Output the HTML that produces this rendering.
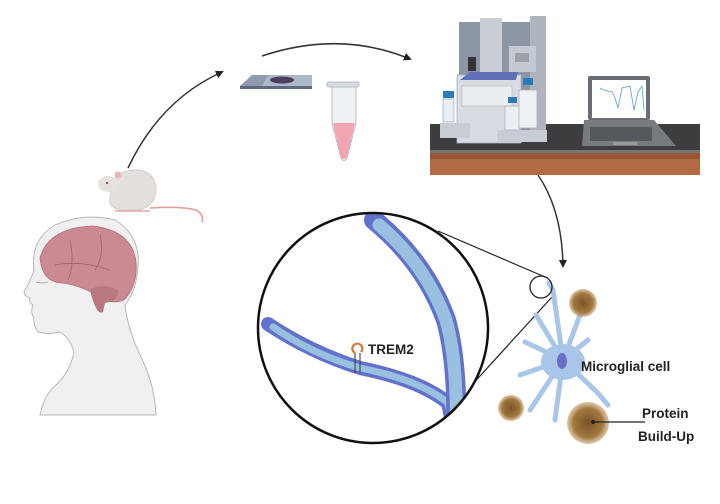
<!DOCTYPE html>
<html><head><meta charset="utf-8"><style>
html,body{margin:0;padding:0;background:#fff;}
svg{display:block;font-family:"Liberation Sans",sans-serif;}
</style></head><body>
<svg width="720" height="504" viewBox="0 0 720 504" xmlns="http://www.w3.org/2000/svg">
<defs>
<marker id="ah" markerWidth="8" markerHeight="8" refX="6" refY="4" orient="auto" markerUnits="userSpaceOnUse"><path d="M0,0 L8,4 L0,8 Z" fill="#222"/></marker>
<radialGradient id="prot"><stop offset="0" stop-color="#7a5525"/><stop offset="0.7" stop-color="#a07840"/><stop offset="1" stop-color="#c8a070" stop-opacity="0.6"/></radialGradient>
<clipPath id="cc"><circle cx="373" cy="328" r="114"/></clipPath>
</defs>
<!-- arrows -->
<path d="M128,168 Q160,100 222,72" fill="none" stroke="#333" stroke-width="1.5" marker-end="url(#ah)"/>
<path d="M262,56 Q340,30 410,59" fill="none" stroke="#333" stroke-width="1.6" marker-end="url(#ah)"/>
<path d="M538,175 Q562,210 563,266" fill="none" stroke="#333" stroke-width="1.5" marker-end="url(#ah)"/>

<!-- slide -->
<polygon points="240,86 252,75 312,75 312,86" fill="#8f9ab0"/>
<polygon points="262,86 268,75 312,75 312,86" fill="#aeb8cc"/>
<rect x="240" y="86" width="72" height="3" fill="#5f6a80"/>
<ellipse cx="282" cy="80" rx="12" ry="3.5" fill="#4c4060"/>
<!-- tube -->
<rect x="327" y="82" width="32" height="5" rx="2" fill="#d8dde2" stroke="#aab" stroke-width="0.8"/>
<path d="M332,87 L356,87 L356,123 L347,158 Q344,163 341,158 L332,123 Z" fill="#eef1f4" stroke="#b8bec6" stroke-width="1"/>
<path d="M333,123 L355,123 L347,157 Q344,161 341,157 Z" fill="#f2a5b0"/>

<!-- bench -->
<rect x="430" y="124" width="270" height="28" fill="#3d3d3f"/>
<rect x="430" y="150" width="270" height="3" fill="#777"/>
<rect x="430" y="153" width="270" height="22" fill="#b26a42"/>
<rect x="430" y="153" width="270" height="6" fill="#9a5535"/>
<!-- machine -->
<rect x="459" y="22" width="82" height="110" fill="#8d96a4"/>
<rect x="480" y="18" width="22" height="100" fill="#c9ced6"/>
<rect x="530" y="16" width="16" height="125" fill="#aeb5bf"/>
<rect x="509" y="46" width="27" height="26" fill="#c5cad1"/>
<rect x="515" y="53" width="14" height="9" fill="#9aa1ab"/>
<rect x="468" y="57" width="8" height="14" fill="#333"/>
<rect x="457" y="75" width="64" height="68" fill="#d8dce2" stroke="#aab0ba" stroke-width="0.8"/>
<polygon points="460,80 470,72 518,72 516,80" fill="#6070b8"/>
<rect x="462" y="86" width="50" height="20" fill="#eaedf0" stroke="#aab" stroke-width="0.5"/>
<rect x="440" y="123" width="30" height="15" fill="#c8cdd4"/>
<rect x="497" y="130" width="50" height="12" fill="#c8cdd4"/>
<path d="M443,122 L443,99 L454,99 L454,122 Z" fill="#e8eef2" stroke="#aab" stroke-width="0.7"/>
<rect x="443" y="91" width="11" height="7" fill="#2c7ab8"/>
<path d="M505,130 L505,106 L520,106 L520,130 Z" fill="#e8eef2" stroke="#aab" stroke-width="0.7"/>
<rect x="508" y="97" width="9" height="6" fill="#2c7ab8"/>
<path d="M519,128 L519,90 L537,90 L537,128 Z" fill="#edf1f4" stroke="#aab" stroke-width="0.7"/>
<rect x="523" y="78" width="10" height="7" fill="#2c7ab8"/>
<!-- laptop -->
<rect x="588" y="76" width="62" height="44" rx="2" fill="#6a6e74"/>
<rect x="592" y="80" width="54" height="38" fill="#fff"/>
<path d="M600,88 L604,90 L612,92 L615,98 L618,108 L622,88 L630,86 L634,110 L638,92 L642,86 L644,110" fill="none" stroke="#5b9bd5" stroke-width="0.8"/>
<path d="M584,120 L654,120 L676,146 L582,146 Z" fill="#777b80"/>
<rect x="590" y="127" width="62" height="14" fill="#55595e"/>
<rect x="613" y="142" width="24" height="3" fill="#999"/>

<!-- mouse -->
<path d="M112,184 Q114,172 132,170 Q152,168 156,186 Q157,205 140,210 L120,210 Q108,207 110,198 Z" fill="#e3dfdc" stroke="#cfcac6" stroke-width="0.8"/>
<ellipse cx="108" cy="184" rx="10" ry="8" fill="#e6e2df"/>
<circle cx="118" cy="175" r="3.5" fill="#e9b9b9"/>
<circle cx="107" cy="183" r="1" fill="#c00"/>
<path d="M150,208 Q180,206 196,210 Q204,214 202,222" fill="none" stroke="#e0a0a0" stroke-width="1.6"/>
<path d="M115,211 L150,211" stroke="#e0a8a8" stroke-width="1.5"/>

<!-- head -->
<path d="M40,415 Q44,395 56,385 Q70,372 74,352 Q70,338 60,332 Q48,335 38,332 Q33,325 34,318 Q30,312 33,305 Q28,302 30,298 Q24,296 24,292 Q30,282 34,270 Q30,240 55,225 Q85,212 115,220 Q140,235 138,265 Q137,290 125,305 Q128,330 140,355 Q155,385 156,415 Z" fill="#f0f0f0" stroke="#b8b8b8" stroke-width="1"/>
<path d="M40,258 Q48,228 92,226 Q132,230 136,262 Q138,285 124,300 Q110,305 98,296 Q80,285 62,283 Q42,282 40,258 Z" fill="#c98a92" stroke="#b5707a" stroke-width="0.8"/>
<path d="M90,290 Q102,282 118,290 Q120,300 105,303 L103,312 Q100,314 97,310 Q92,300 90,290 Z" fill="#b87880"/>
<path d="M70,240 Q75,265 68,280 M100,235 Q105,255 95,270 M55,265 Q80,260 110,270" fill="none" stroke="#a5606a" stroke-width="0.8"/>
<path d="M36,282 Q42,284 48,282" fill="none" stroke="#999" stroke-width="0.8"/>

<!-- zoom lines -->
<line x1="438" y1="231" x2="545" y2="277" stroke="#222" stroke-width="1.2"/>
<line x1="470" y1="387" x2="552" y2="297" stroke="#222" stroke-width="1.2"/>
<!-- microglia -->
<g stroke="#a9c6e8" stroke-width="5" stroke-linecap="round" fill="none">
<path d="M563,360 L553,290 L549,283"/>
<path d="M563,360 L580,315 L592,300"/>
<path d="M563,360 L525,342"/>
<path d="M563,360 L536,315"/>
<path d="M563,360 L540,395 L530,410"/>
<path d="M563,360 L555,420"/>
<path d="M563,360 L597,392 L608,405"/>
<path d="M563,360 L588,340"/>
<path d="M563,360 L520,375"/>
</g>
<ellipse cx="563" cy="362" rx="22" ry="18" fill="#a9c6e8"/>
<ellipse cx="562" cy="361" rx="5" ry="8" fill="#6a6ec8"/>
<circle cx="541" cy="287" r="11" fill="none" stroke="#222" stroke-width="1.3"/>
<circle cx="583" cy="303" r="14" fill="url(#prot)"/>
<circle cx="511" cy="408" r="13" fill="url(#prot)"/>
<circle cx="588" cy="423" r="21" fill="url(#prot)"/>
<circle cx="593" cy="422" r="2" fill="#222"/>
<line x1="593" y1="422" x2="645" y2="422" stroke="#222" stroke-width="1.2"/>
<text x="581" y="371" font-size="13.5" font-weight="bold" fill="#222">Microglial cell</text>
<text x="642" y="418" font-size="13.5" font-weight="bold" fill="#222">Protein</text>
<text x="638" y="441" font-size="13.5" font-weight="bold" fill="#222">Build-Up</text>

<!-- magnified circle -->
<circle cx="373" cy="328" r="115" fill="#fff"/>
<g clip-path="url(#cc)" fill="none" stroke-linecap="round" stroke-linejoin="round">
<path d="M268,324 Q310,352 360,368 Q420,380 448,403 L460,460" stroke="#6272cc" stroke-width="14"/>
<path d="M273,327 Q312,354 360,368 Q420,380 448,403 L460,460" stroke="#9ac0e0" stroke-width="7"/>
<path d="M374,220 Q425,262 446,320 Q460,370 455,460" stroke="#6272cc" stroke-width="20"/>
<path d="M379,225 Q425,264 446,320 Q460,370 455,460" stroke="#9ac0e0" stroke-width="13"/>
</g>
<circle cx="373" cy="328" r="115" fill="none" stroke="#111" stroke-width="2.5"/>
<line x1="355" y1="353" x2="355" y2="373" stroke="#333" stroke-width="1"/>
<line x1="360" y1="353" x2="360" y2="373" stroke="#333" stroke-width="1"/>
<path d="M355,353 A5,5 0 1,1 361,352" fill="none" stroke="#d27a3a" stroke-width="2.2"/>
<text x="368" y="354" font-size="13.5" font-weight="bold" fill="#222">TREM2</text>
</svg>
</body></html>
